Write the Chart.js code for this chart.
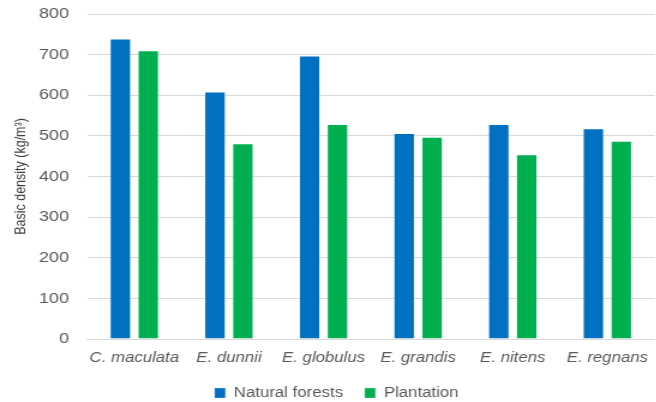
<!DOCTYPE html>
<html>
<head>
<meta charset="utf-8">
<title>Basic density of eucalypt species</title>
<script src="https://cdn.jsdelivr.net/npm/chart.js@4"></script>
<style>
  html, body { margin: 0; padding: 0; background: #ffffff; overflow: hidden; width: 656px; height: 402px; }
  #wrap { width: 551px; height: 402px; transform: scaleX(1.2); transform-origin: 0 0; }
  canvas { display: block; }
</style>
</head>
<body>
<div id="wrap"><canvas id="chart" width="551" height="402"></canvas></div>
<script>
// Species on the category axis
const species = ['C. maculata', 'E. dunnii', 'E. globulus', 'E. grandis', 'E. nitens', 'E. regnans'];

// Basic density (kg/m³) per origin
const naturalForests = [740, 609, 698, 507, 529, 519];
const plantation = [711, 482, 529, 498, 455, 488];

// Value axis ticks
const yTicks = [0, 100, 200, 300, 400, 500, 600, 700, 800];

const seriesNames = ['Natural forests', 'Plantation'];
const textColor = '#595959';
const family = '"Liberation Sans", Arial, sans-serif';

new Chart(document.getElementById('chart'), {
  type: 'bar',
  data: {
    labels: species,
    datasets: [
      {
        label: seriesNames[0],
        data: naturalForests,
        backgroundColor: '#0070C0',
        borderColor: 'rgba(255,255,255,0.25)',
        borderWidth: 1,
        categoryPercentage: 0.59,
        barPercentage: 0.78
      },
      {
        label: seriesNames[1],
        data: plantation,
        backgroundColor: '#00B050',
        borderColor: 'rgba(255,255,255,0.25)',
        borderWidth: 1,
        categoryPercentage: 0.59,
        barPercentage: 0.78
      }
    ]
  },
  options: {
    responsive: false,
    animation: false,
    layout: { padding: { left: 10, right: 0, top: 14, bottom: 2 } },
    plugins: {
      tooltip: { enabled: false },
      legend: {
        position: 'bottom',
        maxHeight: 32,
        labels: {
          color: textColor,
          font: { family: family, size: 14 },
          boxWidth: 9,
          boxHeight: 10,
          padding: 18
        }
      }
    },
    scales: {
      x: {
        grid: { display: false, drawTicks: false },
        border: { display: true, color: '#d9d9d9', width: 1 },
        ticks: {
          color: textColor,
          font: { family: family, size: 14, style: 'italic' },
          padding: 11,
          maxRotation: 0,
          autoSkip: false
        },
        afterFit: axis => { axis.height = 29; }
      },
      y: {
        min: yTicks[0],
        max: yTicks[yTicks.length - 1],
        afterBuildTicks: axis => { axis.ticks = yTicks.map(v => ({ value: v })); },
        afterFit: axis => { axis.paddingTop = 8; axis.paddingBottom = 8; },
        grid: { color: '#d9d9d9', lineWidth: 1, drawTicks: false },
        border: { display: false },
        ticks: {
          color: textColor,
          font: { family: family, size: 15 },
          padding: 15
        },
        title: {
          display: true,
          text: 'Basic density (kg/m³)',
          color: '#404040',
          font: { family: family, size: 12.5 },
          padding: { top: 0, bottom: -7.5 }
        }
      }
    }
  }
});
</script>
</body>
</html>
